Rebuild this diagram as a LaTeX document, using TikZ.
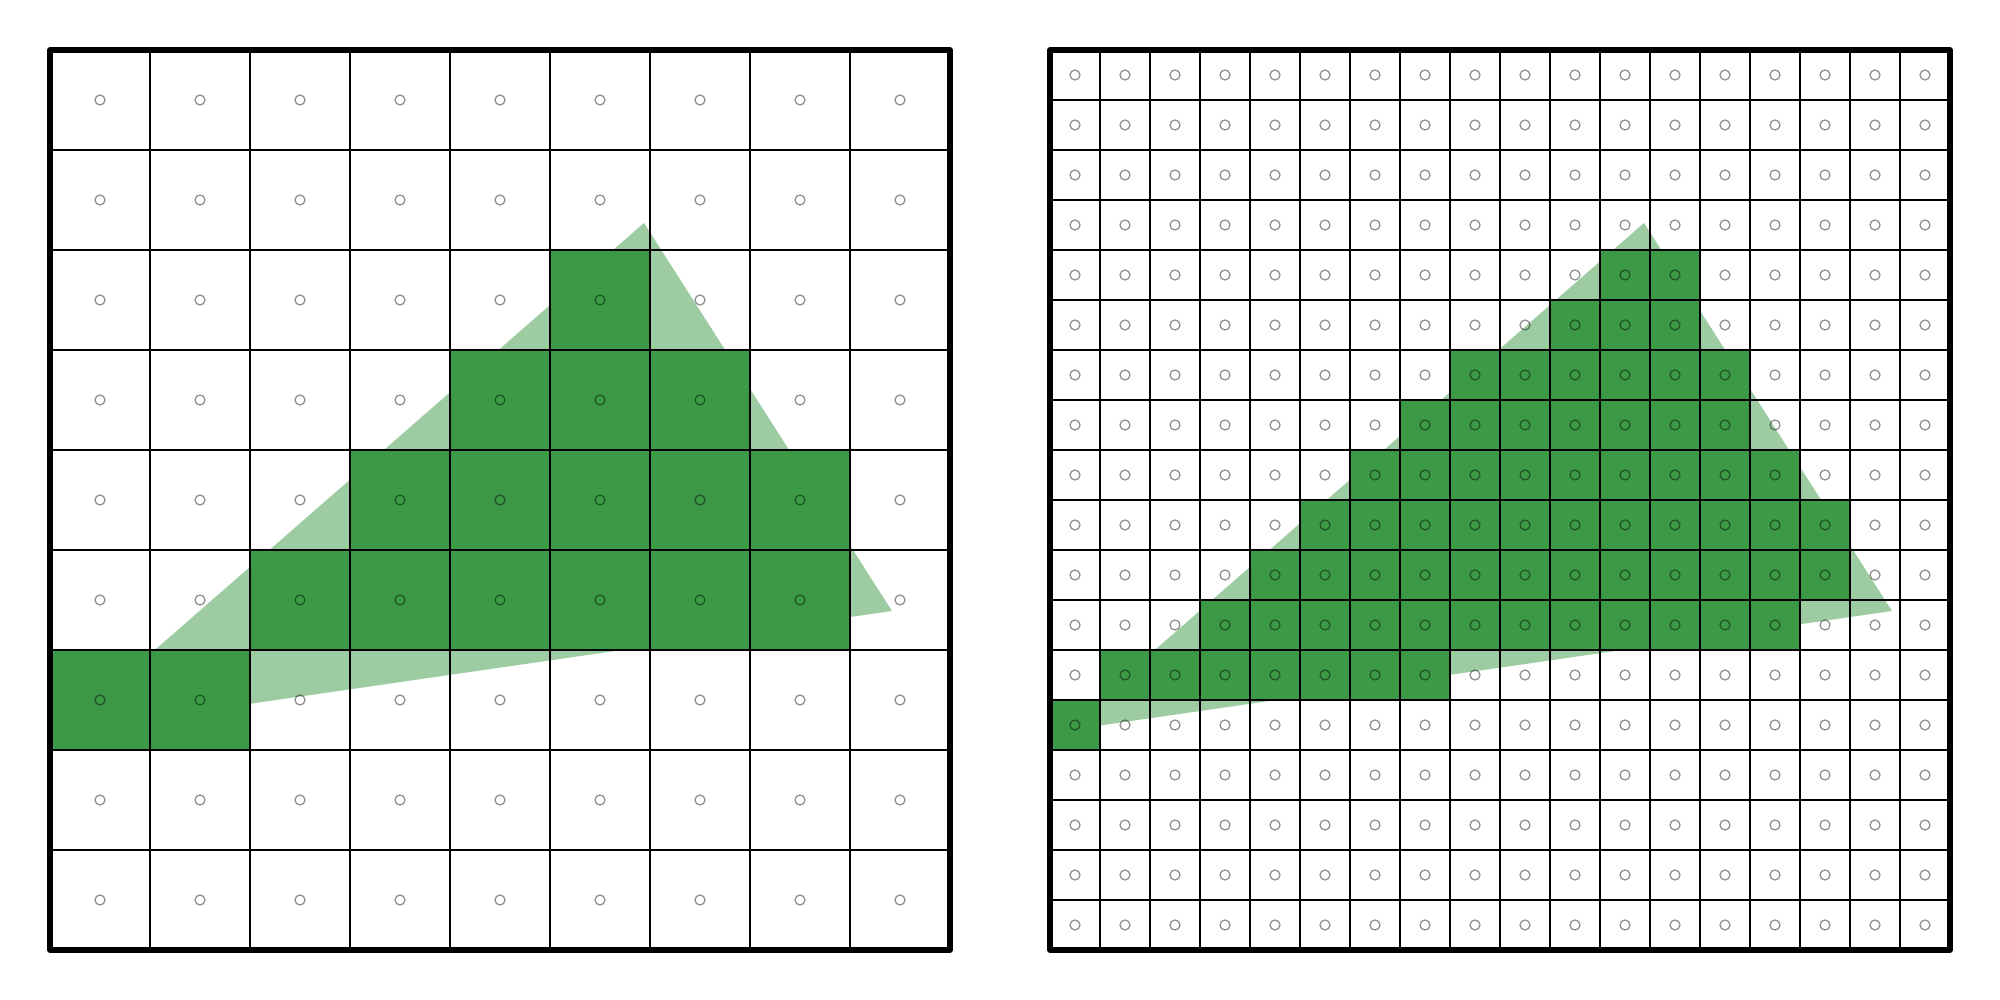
\documentclass[tikz,border=0pt]{standalone}
\definecolor{raster}{RGB}{60,154,70}
\begin{document}
\begin{tikzpicture}[line join=round, line cap=round]
\tikzset{tri/.style={fill=raster,opacity=.5},
  cell/.style={fill=raster},
  sample/.style={draw=black,opacity=.45,line width=.35pt},
  frame/.style={line width=1.5pt}}
\useasboundingbox (-0.5,-0.5) rectangle (19.5,9.5);
% coarse raster, 9x9
\begin{scope}
\coordinate (A) at (0.12,2.19);
\coordinate (B) at (5.94,7.27);
\coordinate (C) at (8.42,3.39);
\fill[tri] (A)--(B)--(C)--cycle;
\foreach \r/\a/\b in {2/5/5, 3/4/6, 4/3/7, 5/2/7, 6/0/1}
  \foreach \c in {\a,...,\b} \fill[cell] (\c,8-\r) rectangle ++(1,1);
\draw[line width=.6pt] (0,0) grid (9,9);
\foreach \i in {0,...,8} \foreach \j in {0,...,8}
  \draw[sample] (\i+.5,\j+.5) circle (.05);
\draw[frame] (0,0) rectangle (9,9);
\end{scope}
% fine raster, 18x18
\begin{scope}[shift={(10,0)}]
\coordinate (A) at (0.12,2.19);
\coordinate (B) at (5.94,7.27);
\coordinate (C) at (8.42,3.39);
\fill[tri] (A)--(B)--(C)--cycle;
\foreach \r/\a/\b in {4/11/12, 5/10/12, 6/8/13, 7/7/13, 8/6/14, 9/5/15,
    10/4/15, 11/3/14, 12/1/7, 13/0/0}
  \foreach \c in {\a,...,\b} \fill[cell] (\c*.5,8.5-\r*.5) rectangle ++(.5,.5);
\draw[line width=.6pt] (0,0) grid[step=.5] (9,9);
\foreach \i in {0,...,17} \foreach \j in {0,...,17}
  \draw[sample] (\i*.5+.25,\j*.5+.25) circle (.05);
\draw[frame] (0,0) rectangle (9,9);
\end{scope}
\end{tikzpicture}
\end{document}
